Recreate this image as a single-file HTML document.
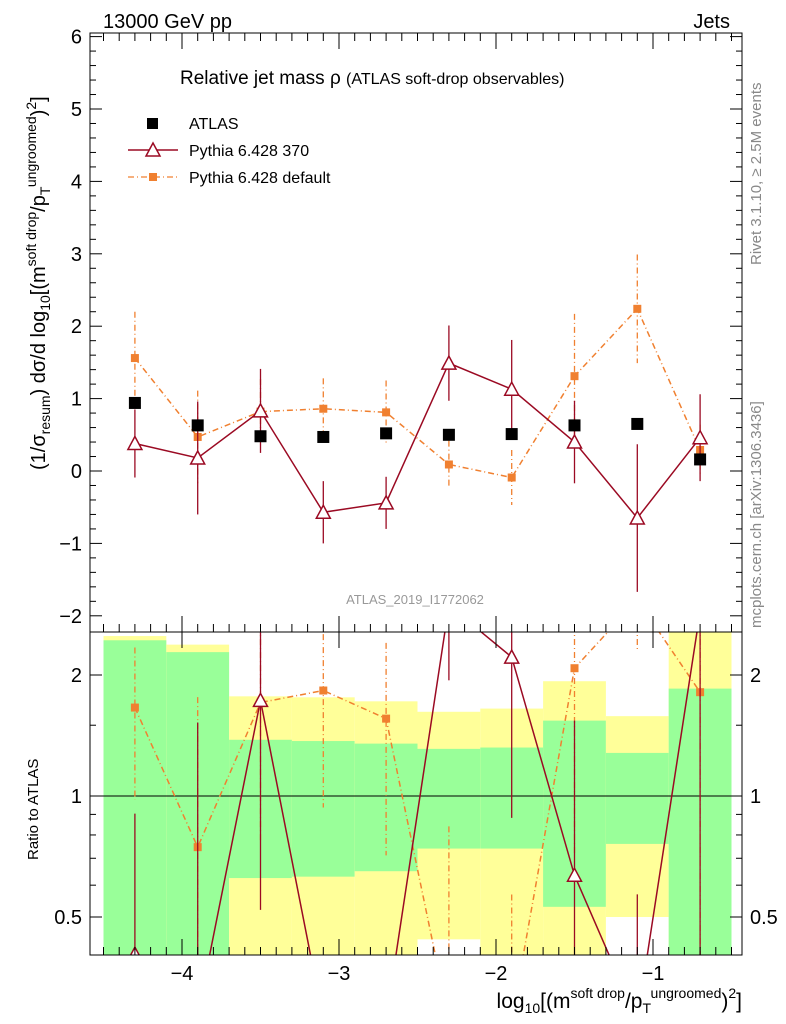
<!DOCTYPE html>
<html><head><meta charset="utf-8">
<style>
html,body{margin:0;background:#fff;width:786px;height:1024px;overflow:hidden;}
svg{display:block;font-family:"Liberation Sans",sans-serif;overflow:hidden;}
</style></head>
<body>
<svg id="chart" width="786" height="1024" viewBox="0 0 786 1024" xmlns="http://www.w3.org/2000/svg">
<defs>
<clipPath id="clipMain"><rect x="90" y="33" width="652" height="599"/></clipPath>
<clipPath id="clipRatio"><rect x="90" y="632" width="652" height="323"/></clipPath>
</defs>
<g id="ratioBands" clip-path="url(#clipRatio)"></g>
<g id="mainMarks" clip-path="url(#clipMain)"></g>
<g id="ratioMarks" clip-path="url(#clipRatio)"></g>
<g id="axes"></g>
<text x="103" y="28" font-size="20">13000 GeV pp</text>
<text x="730" y="28" font-size="20" text-anchor="end">Jets</text>
<text x="180" y="84" font-size="19">Relative jet mass ρ <tspan font-size="16">(ATLAS soft-drop observables)</tspan></text>
<text x="415" y="604" font-size="13" fill="#999" text-anchor="middle">ATLAS_2019_I1772062</text>
<text transform="translate(761,265) rotate(-90)" font-size="15" fill="#888">Rivet 3.1.10, ≥ 2.5M events</text>
<text transform="translate(761,628) rotate(-90)" font-size="15" fill="#888">mcplots.cern.ch [arXiv:1306.3436]</text>
<g>
<rect x="147" y="118" width="11" height="11" fill="#000"/>
<text x="189" y="129" font-size="16">ATLAS</text>
<line x1="128" y1="150" x2="178" y2="150" stroke="#9b0a23" stroke-width="1.5"/>
<polygon points="153,143 146,156 160,156" fill="#fff" stroke="#9b0a23" stroke-width="1.5"/>
<text x="189" y="156" font-size="16">Pythia 6.428 370</text>
<line x1="128" y1="177" x2="178" y2="177" stroke="#f08030" stroke-width="1.3" stroke-dasharray="6,3,1,3"/>
<rect x="149" y="173" width="8" height="8" fill="#f08030"/>
<text x="189" y="183" font-size="16">Pythia 6.428 default</text>
</g>
<text transform="translate(45,470) rotate(-90)" font-size="20">(1/σ<tspan font-size="14" dy="5">resum</tspan><tspan dy="-5">) dσ/d log</tspan><tspan font-size="14" dy="5">10</tspan><tspan dy="-5">[(m</tspan><tspan font-size="14" dy="-9">soft drop</tspan><tspan dy="9">/p</tspan><tspan font-size="14" dy="5">T</tspan><tspan font-size="14" dy="-14">ungroomed</tspan><tspan dy="9">)</tspan><tspan font-size="14" dy="-9">2</tspan><tspan dy="9">]</tspan></text>
<text transform="translate(38,860) rotate(-90)" font-size="15">Ratio to ATLAS</text>
<text x="742" y="1008" font-size="21" text-anchor="end">log<tspan font-size="14" dy="5">10</tspan><tspan dy="-5">[(m</tspan><tspan font-size="14" dy="-10">soft drop</tspan><tspan dy="10">/p</tspan><tspan font-size="14" dy="5">T</tspan><tspan font-size="14" dy="-15">ungroomed</tspan><tspan dy="10">)</tspan><tspan font-size="14" dy="-10">2</tspan><tspan dy="10">]</tspan></text>
</svg>
<script>
const xCenters=[-4.3,-3.9,-3.5,-3.1,-2.7,-2.3,-1.9,-1.5,-1.1,-0.7];
const atlasVals=[0.94,0.63,0.48,0.47,0.52,0.50,0.51,0.63,0.65,0.16];
const p370Vals=[0.38,0.18,0.83,-0.57,-0.44,1.49,1.13,0.40,-0.65,0.46];
const p370Errs=[0.47,0.78,0.58,0.43,0.36,0.52,0.68,0.57,1.02,0.6];
const defVals=[1.56,0.47,0.82,0.86,0.81,0.09,-0.09,1.31,2.24,0.29];
const defErrs=[0.64,0.64,0.45,0.42,0.44,0.33,0.38,0.86,0.75,0.35];
const bandGreenHi=[2.44,2.28,1.38,1.37,1.35,1.31,1.32,1.54,1.28,1.85];
const bandGreenLo=[0.3,0.3,0.625,0.63,0.65,0.74,0.74,0.53,0.76,0.3];
const bandYellowHi=[2.5,2.38,1.77,1.76,1.72,1.62,1.65,1.93,1.58,3.0];
const bandYellowLo=[0.3,0.3,0.3,0.3,0.3,0.44,0.3,0.3,0.5,0.3];
const yTicks=[-2,-1,0,1,2,3,4,5,6];
const xTicks=[-4,-3,-2,-1];
const rTicks=[0.5,1,2];
const binW=0.4;
const NS="http://www.w3.org/2000/svg";
const X=v=>182+(v+4)*157;
const Y=v=>Math.min(1000,Math.max(20,471-v*72.4));
const R=r=>Math.min(1020,Math.max(600,796-Math.log2(Math.max(r,0.05))*121));
function mk(tag,attrs,parent){const e=document.createElementNS(NS,tag);for(const k in attrs)e.setAttribute(k,attrs[k]);parent.appendChild(e);return e;}
const bands=document.getElementById('ratioBands');
const main=document.getElementById('mainMarks');
const rat=document.getElementById('ratioMarks');
const axes=document.getElementById('axes');
xCenters.forEach((c,i)=>{
 const x0=X(c-binW/2),x1=X(c+binW/2);
 let r=mk('rect',{x:x0,y:R(bandYellowHi[i]),width:x1-x0,height:R(bandYellowLo[i])-R(bandYellowHi[i]),fill:'#ffff99'},bands);
 
 
 r=mk('rect',{x:x0,y:R(bandGreenHi[i]),width:x1-x0,height:R(bandGreenLo[i])-R(bandGreenHi[i]),fill:'#99ff99'},bands);
 
 
});
mk('line',{x1:90,y1:R(1),x2:742,y2:R(1),stroke:'#000','stroke-width':1},rat);
function series(vals,errs,color,dash,tri,g,ymap,norm){
 const pts=xCenters.map((c,i)=>[X(c),ymap(norm?vals[i]/norm[i]:vals[i])]);
 const pl=mk('polyline',{points:pts.map(p=>p.join(',')).join(' '),fill:'none',stroke:color,'stroke-width':1.5},g);
 if(dash)pl.setAttribute('stroke-dasharray',dash);
 
 
 xCenters.forEach((c,i)=>{
  const d=norm?norm[i]:1;
  const v=vals[i]/d,e=errs[i]/d;
  const eb=mk('line',{x1:X(c),x2:X(c),y1:ymap(v+e),y2:ymap(v-e),stroke:color,'stroke-width':1.3},g);
  if(dash)eb.setAttribute('stroke-dasharray',dash);
  
  
  const px=X(c),py=ymap(v);
  let m;
  if(tri)m=mk('polygon',{points:`${px},${py-7} ${px-7},${py+6} ${px+7},${py+6}`,fill:'#fff',stroke:color,'stroke-width':1.5},g);
  else m=mk('rect',{x:px-4,y:py-4,width:8,height:8,fill:color},g);
  
  
 });
}
series(defVals,defErrs,'#f08030','6,3,1,3',false,main,Y,null);
series(p370Vals,p370Errs,'#9b0a23',null,true,main,Y,null);
xCenters.forEach((c,i)=>{
 const m=mk('rect',{x:X(c)-6,y:Y(atlasVals[i])-6,width:12,height:12,fill:'#000'},main);
 
 
});
series(defVals,defErrs,'#f08030','6,3,1,3',false,rat,R,atlasVals);
series(p370Vals,p370Errs,'#9b0a23',null,true,rat,R,atlasVals);
mk('rect',{x:90,y:33,width:652,height:599,fill:'none',stroke:'#000','stroke-width':1},axes);
mk('rect',{x:90,y:632,width:652,height:323,fill:'none',stroke:'#000','stroke-width':1},axes);
yTicks.forEach(t=>{
 const y=Y(t);
 mk('line',{x1:90,x2:102,y1:y,y2:y,stroke:'#000'},axes);
 mk('line',{x1:730,x2:742,y1:y,y2:y,stroke:'#000'},axes);
 for(let k=1;k<5;k++){const ym=Y(t+k*0.2);if(ym>33){mk('line',{x1:90,x2:96,y1:ym,y2:ym,stroke:'#000'},axes);mk('line',{x1:736,x2:742,y1:ym,y2:ym,stroke:'#000'},axes);}}
 const tx=mk('text',{x:82,y:y+7,'font-size':20,'text-anchor':'end'},axes);
 tx.textContent=t<0?'−'+(-t):String(t);
 
 
});
rTicks.forEach(t=>{
 const y=R(t);
 mk('line',{x1:90,x2:102,y1:y,y2:y,stroke:'#000'},axes);
 mk('line',{x1:730,x2:742,y1:y,y2:y,stroke:'#000'},axes);
 const tx=mk('text',{x:82,y:y+7,'font-size':20,'text-anchor':'end'},axes);
 tx.textContent=String(t);
 
 
 const tx2=mk('text',{x:750,y:y+7,'font-size':20},axes);
 tx2.textContent=String(t);
 
 
});
[0.6,0.7,0.8,0.9,1.5].forEach(t=>{const y=R(t);mk('line',{x1:90,x2:96,y1:y,y2:y,stroke:'#000'},axes);mk('line',{x1:736,x2:742,y1:y,y2:y,stroke:'#000'},axes);});
xTicks.forEach(t=>{
 const x=X(t);
 mk('line',{x1:x,x2:x,y1:955,y2:939,stroke:'#000'},axes);
 mk('line',{x1:x,x2:x,y1:632,y2:648,stroke:'#000'},axes);
 mk('line',{x1:x,x2:x,y1:632,y2:616,stroke:'#000'},axes);
 mk('line',{x1:x,x2:x,y1:33,y2:49,stroke:'#000'},axes);
 const tx=mk('text',{x:x,y:980,'font-size':20,'text-anchor':'middle'},axes);
 tx.textContent='−'+(-t);
 
 
});
for(let v=-4.5;v<=-0.45;v+=0.1){
 const x=X(v);
 mk('line',{x1:x,x2:x,y1:955,y2:947,stroke:'#000'},axes);
 mk('line',{x1:x,x2:x,y1:632,y2:624,stroke:'#000'},axes);
 mk('line',{x1:x,x2:x,y1:33,y2:41,stroke:'#000'},axes);
}
</script>
</body></html>
